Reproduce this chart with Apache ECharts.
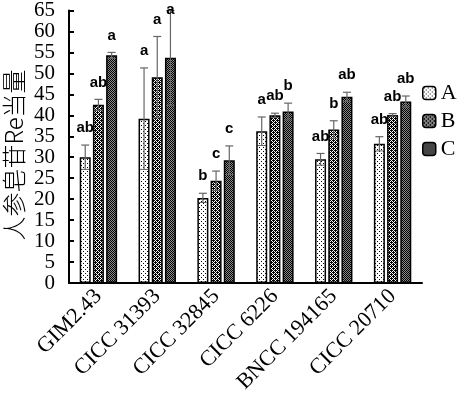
<!DOCTYPE html>
<html><head><meta charset="utf-8">
<script src="https://cdn.jsdelivr.net/npm/echarts@6/dist/echarts.min.js"></script>
<style>html,body{margin:0;padding:0;background:#fff}#c{width:460px;height:399px}</style>
</head><body><div id="c"></div>
<script>
const categories = ['GIM2.43','CICC 31393','CICC 32845','CICC 6226','BNCC 194165','CICC 20710'];
const seriesNames = ['A','B','C'];
const valuesA = [30.0, 39.2, 20.3, 36.2, 29.5, 33.2];
const valuesB = [42.5, 49.1, 24.4, 40.0, 36.6, 40.1];
const valuesC = [54.3, 53.7, 29.3, 40.9, 44.4, 43.3];
const errA = [2.9, 12.1, 1.1, 3.4, 1.4, 1.7];
const errB = [1.3, 9.7, 2.3, 0.5, 2.1, 0.3];
const errC = [0.7, 11.3, 3.4, 2.0, 1.1, 1.3];
const lettersA = ['ab','a','b','a','ab','ab'];
const lettersB = ['ab','a','c','ab','b','ab'];
const lettersC = ['a','a','c','b','ab','ab'];
const yTicks = [0,5,10,15,20,25,30,35,40,45,50,55,60,65];
const yTitle = '人参皂苷Re当量';

function pat(w, h, bg, fg, pts) {
  const c = document.createElement('canvas'); c.width = w; c.height = h;
  const x = c.getContext('2d'); x.fillStyle = bg; x.fillRect(0,0,w,h); x.fillStyle = fg;
  pts.forEach(p => x.fillRect(p[0], p[1], 1, 1));
  return {image: c, repeat: 'repeat'};
}
const patA = pat(4,4,'#ffffff','#000000',[[1,1],[3,3]]);
const patB = pat(4,4,'#ffffff','#000000',[[0,0],[1,1],[2,0],[3,1],[0,2],[2,2],[1,3],[3,3],[1,0],[3,2]]);
const patC = pat(2,2,'#8a8a8a','#000000',[[0,0],[1,1]]);
const pats = [patA, patB, patC];
const vals = [valuesA, valuesB, valuesC];
const errs = [errA, errB, errC];
const lets = [lettersA, lettersB, lettersC];

const BW = 11, GAP = 2.2;
const series = [];
seriesNames.forEach((n, i) => {
  series.push({
    name: n, type: 'bar', data: vals[i], barWidth: BW, barGap: '20%',
    itemStyle: {color: pats[i], borderColor: '#000', borderWidth: 1.5},
    emphasis: {disabled: true}
  });
});
seriesNames.forEach((n, i) => {
  series.push({
    type: 'custom', silent: true, z: 5,
    data: categories.map((c, k) => [k, vals[i][k], errs[i][k]]),
    renderItem: function (params, api) {
      const k = api.value(0), v = api.value(1), e = api.value(2);
      const off = (i - 1) * (BW + GAP);
      const top = api.coord([k, v + e]); const bot = api.coord([k, v - e]);
      const x = top[0] + off;
      const cw = 4;
      const gray = '#666';
      return {type: 'group', children: [
        {type: 'line', shape: {x1: x, y1: top[1], x2: x, y2: bot[1]}, style: {stroke: gray, lineWidth: 1.2}},
        {type: 'line', shape: {x1: x - cw, y1: top[1], x2: x + cw, y2: top[1]}, style: {stroke: gray, lineWidth: 1.2}},
        {type: 'line', shape: {x1: x - cw, y1: bot[1], x2: x + cw, y2: bot[1]}, style: {stroke: gray, lineWidth: 1}},
        {type: 'text', style: {x: x, y: Math.max(top[1] - 17, 10), text: lets[i][k], textAlign: 'center', textVerticalAlign: 'middle',
          font: 'bold 15px "Liberation Sans", Arial, sans-serif', fill: '#000'}}
      ]};
    }
  });
});

const chart = echarts.init(document.getElementById('c'));
chart.setOption({
  animation: false,
  backgroundColor: '#fff',
  grid: {left: 69, right: 38, top: 8, bottom: 116},
  graphic: [{
    type: 'text', x: 14, y: 155, rotation: Math.PI / 2,
    style: {text: yTitle, textAlign: 'center', textVerticalAlign: 'middle',
      font: '300 24px "Noto Sans CJK SC"', fill: '#000'}
  }],
  legend: {
    data: seriesNames, orient: 'vertical', left: 417, top: 77,
    itemWidth: 13, itemHeight: 13, itemGap: 6,
    textStyle: {fontFamily: 'Liberation Serif', fontSize: 22, color: '#000'},
    itemStyle: {borderColor: '#000', borderWidth: 1.5}
  },
  xAxis: {
    type: 'category', data: categories,
    axisLine: {lineStyle: {color: '#000', width: 2}},
    axisTick: {inside: true, length: 7, lineStyle: {color: '#000', width: 2}},
    axisLabel: {rotate: 45, interval: 0, margin: 10, fontFamily: 'Liberation Serif', fontSize: 22, color: '#000'}
  },
  yAxis: {
    type: 'value', min: 0, max: 65, interval: 5,
    axisLine: {show: true, lineStyle: {color: '#000', width: 2}},
    axisTick: {show: true, inside: true, length: 5, lineStyle: {color: '#000', width: 2}},
    splitLine: {show: false},
    axisLabel: {margin: 14, fontFamily: 'Liberation Serif', fontSize: 21, color: '#000',
      formatter: v => yTicks.indexOf(v) >= 0 ? String(v) : ''}
  },
  series: series
});
</script></body></html>
